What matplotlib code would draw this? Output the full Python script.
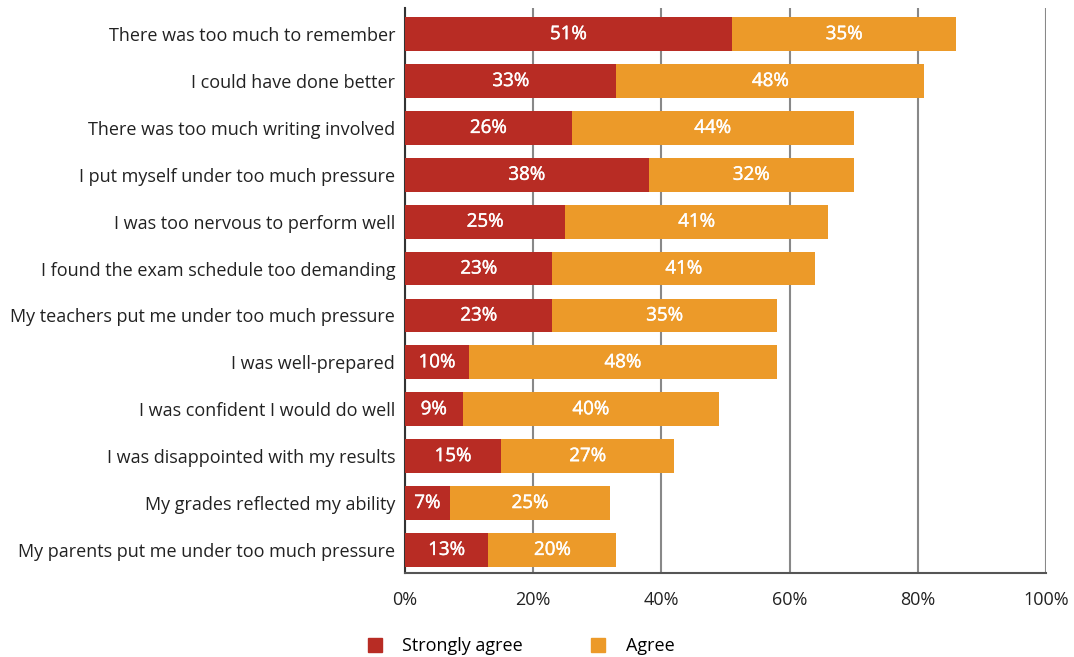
import numpy as np
import matplotlib.pyplot as plt
import matplotlib.patheffects as pe
from matplotlib.lines import Line2D

plt.rcParams['font.family'] = ['Open Sans', 'DejaVu Sans']

statements = [
    "There was too much to remember",
    "I could have done better",
    "There was too much writing involved",
    "I put myself under too much pressure",
    "I was too nervous to perform well",
    "I found the exam schedule too demanding",
    "My teachers put me under too much pressure",
    "I was well-prepared",
    "I was confident I would do well",
    "I was disappointed with my results",
    "My grades reflected my ability",
    "My parents put me under too much pressure",
]
strongly_agree = [51, 33, 26, 38, 25, 23, 23, 10, 9, 15, 7, 13]
agree = [35, 48, 44, 32, 41, 41, 35, 48, 40, 27, 25, 20]
x_ticks = [0, 20, 40, 60, 80, 100]

red = '#B82C24'
orange = '#EC9A29'

fig = plt.figure(figsize=(10.74, 6.57), dpi=100)
ax = fig.add_axes([0.377, 0.128, 0.597, 0.86])

y = np.arange(len(statements))
sa = np.array(strongly_agree)
ag = np.array(agree)

ax.barh(y, sa, height=0.72, color=red, zorder=3)
ax.barh(y, ag, left=sa, height=0.72, color=orange, zorder=3)

# slightly heavier white labels inside the segments
stroke = [pe.withStroke(linewidth=0.3, foreground='white')]
for yi, s, a in zip(y, sa, ag):
    ax.text(s / 2, yi, f"{s}%", ha='center', va='center', color='white',
            fontsize=13.5, zorder=4, path_effects=stroke)
    ax.text(s + a / 2, yi, f"{a}%", ha='center', va='center', color='white',
            fontsize=13.5, zorder=4, path_effects=stroke)

ax.set_xlim(0, 100)
ax.set_ylim(11.49, -0.56)
ax.set_xticks(x_ticks)
ax.set_xticklabels([f"{t}%" for t in x_ticks], fontsize=13)
ax.set_yticks(y)
ax.set_yticklabels(statements, fontsize=13)
ax.tick_params(axis='both', length=0, colors='#222222')
ax.tick_params(axis='y', pad=7)
ax.tick_params(axis='x', pad=13)

ax.grid(axis='x', color='#888888', linewidth=1.5, zorder=1)
for side in ['top', 'right']:
    ax.spines[side].set_visible(False)
ax.spines['left'].set_color('#333333')
ax.spines['left'].set_linewidth(1.5)
ax.spines['bottom'].set_color('#555555')
ax.spines['bottom'].set_linewidth(1.5)

handles = [
    Line2D([], [], marker='s', linestyle='none', markersize=10, color=red),
    Line2D([], [], marker='s', linestyle='none', markersize=10, color=orange),
]
fig.legend(handles, ['Strongly agree', 'Agree'], loc='lower center',
           bbox_to_anchor=(0.48, -0.022), ncol=2, frameon=False, fontsize=13,
           handletextpad=0.5, columnspacing=3.2)

fig.savefig('out.png', dpi=100)
